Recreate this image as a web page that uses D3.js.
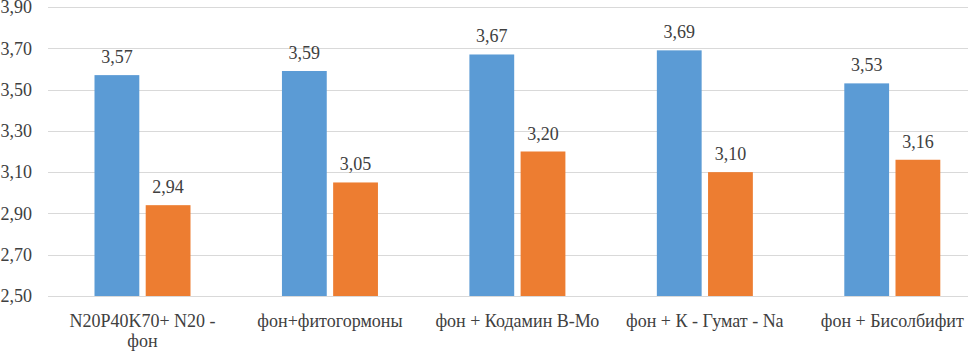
<!DOCTYPE html>
<html>
<head>
<meta charset="utf-8">
<script src="https://cdn.jsdelivr.net/npm/d3@7"></script>
<style>
  body { margin: 0; background: #fff; }
  svg text { font-family: "Liberation Serif", "DejaVu Serif", serif !important; }
  .eixo text { font-size: 18px; fill: #404040; }
  .rotulo { font-size: 18px; fill: #404040; text-anchor: middle; }
</style>
</head>
<body>
<svg id="grafico"></svg>
<script>
// dados
const categorias = ['N20P40K70+ N20 - фон', 'фон+фитогормоны', 'фон + Кодамин В-Мо', 'фон + К - Гумат - Na', 'фон + Бисолбифит'];
const serie1 = [3.57, 3.59, 3.67, 3.69, 3.53];
const serie2 = [2.94, 3.05, 3.20, 3.10, 3.16];
const ticksY = [2.50, 2.70, 2.90, 3.10, 3.30, 3.50, 3.70, 3.90];
const cores = ['#5B9BD5', '#ED7D31'];

const largura = 968, altura = 351;
const svg = d3.select('#grafico').attr('width', largura).attr('height', altura);

const formato = v => d3.format('.2f')(v).replace('.', ',');

// escalas
const x = d3.scaleBand().domain(categorias).range([48.75, 986]).paddingInner(0).paddingOuter(0);
const y = d3.scaleLinear().domain([2.5, 3.9]).range([296, 7]);
const xSub = d3.scaleBand().domain([0, 1]).range([45.75, 141.75]).paddingInner(0.125).paddingOuter(0);

// grade horizontal
svg.append('g')
    .selectAll('line')
    .data(ticksY)
    .join('line')
    .attr('x1', 48).attr('x2', largura)
    .attr('y1', d => Math.round(y(d)) + 0.5).attr('y2', d => Math.round(y(d)) + 0.5)
    .attr('stroke', '#d9d9d9').attr('stroke-width', 1);

// eixo Y (só rótulos)
const eixoY = svg.append('g').attr('class', 'eixo')
    .attr('transform', 'translate(32,0)')
    .call(d3.axisLeft(y).tickValues(ticksY).tickFormat(formato).tickSize(0).tickPadding(0));
eixoY.select('.domain').remove();
eixoY.selectAll('text').attr('dy', '0.32em');

// barras
const dados = categorias.map((c, i) => ({ chave: c, valores: [serie1[i], serie2[i]] }));
const grupos = svg.append('g').selectAll('g')
    .data(dados)
    .join('g')
    .attr('transform', d => `translate(${x(d.chave)},0)`);

grupos.selectAll('rect')
    .data(d => d.valores.map((v, j) => ({ v, j })))
    .join('rect')
    .attr('x', d => xSub(d.j))
    .attr('width', xSub.bandwidth())
    .attr('y', d => y(d.v))
    .attr('height', d => y(2.5) - y(d.v))
    .attr('fill', d => cores[d.j]);

grupos.selectAll('.rotulo')
    .data(d => d.valores.map((v, j) => ({ v, j })))
    .join('text')
    .attr('class', 'rotulo')
    .attr('x', d => xSub(d.j) + xSub.bandwidth() / 2)
    .attr('y', d => y(d.v) - 12)
    .text(d => formato(d.v));

// eixo X
const eixoX = svg.append('g').attr('class', 'eixo')
    .attr('transform', 'translate(0,296)')
    .call(d3.axisBottom(x).tickSize(0).tickPadding(0));
eixoX.select('.domain').remove();
eixoX.selectAll('text').attr('y', 31).attr('dy', 0).call(quebra, 176);

// quebra os rótulos longos em várias linhas
function quebra(textos, larguraMax) {
  textos.each(function() {
    const texto = d3.select(this);
    const palavras = texto.text().split(/\s+/);
    texto.text(null);
    let linha = [];
    let n = 0;
    let tspan = texto.append('tspan').attr('x', 0).attr('y', 31);
    palavras.forEach(p => {
      linha.push(p);
      tspan.text(linha.join(' '));
      if (tspan.node().getComputedTextLength() > larguraMax && linha.length > 1) {
        linha.pop();
        tspan.text(linha.join(' '));
        linha = [p];
        n++;
        tspan = texto.append('tspan').attr('x', 0).attr('y', 31 + n * 20).text(p);
      }
    });
  });
}

svg.append('line')
    .attr('x1', 48).attr('x2', largura)
    .attr('y1', 296.5).attr('y2', 296.5)
    .attr('stroke', '#d9d9d9');
</script>
</body>
</html>
